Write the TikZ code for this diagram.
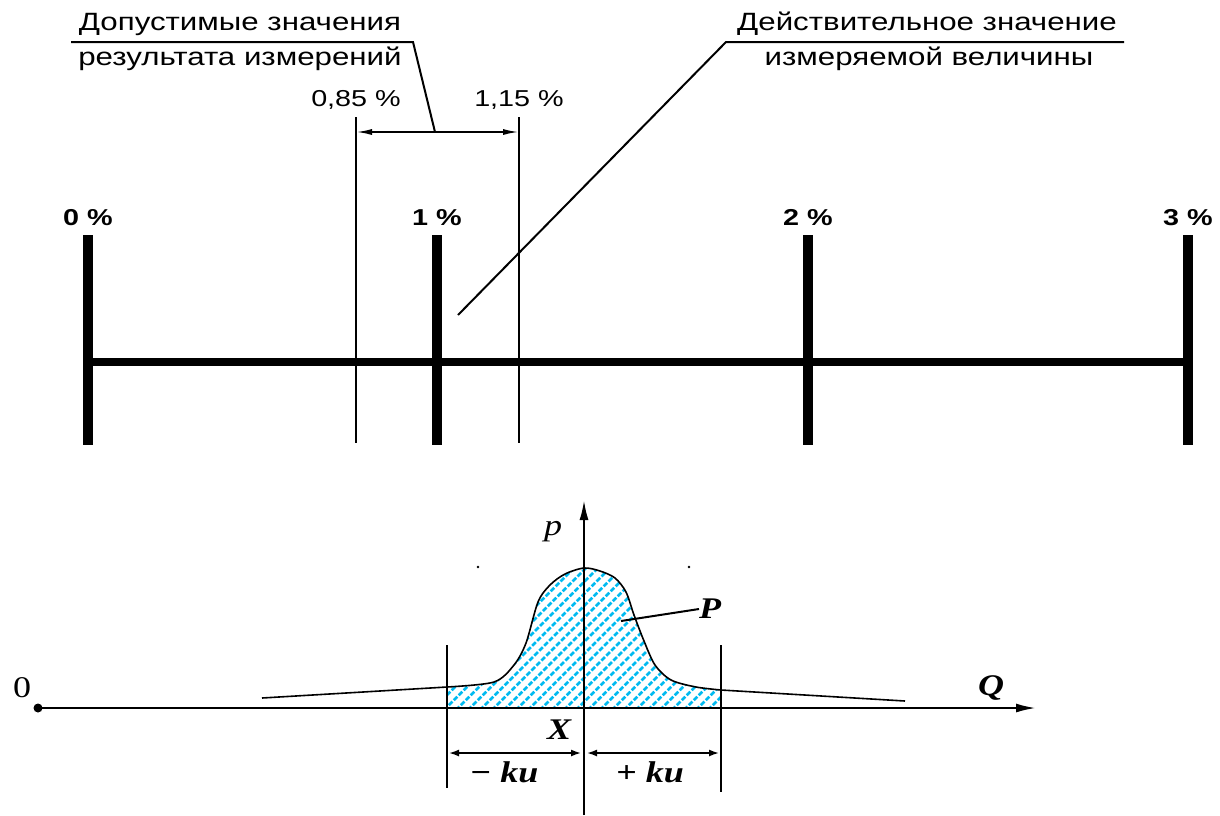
\documentclass[tikz,border=0pt]{standalone}
\usepackage{fontspec}
\setmainfont{Liberation Serif}[FakeStretch=1.2]
\setsansfont{Liberation Sans}[FakeStretch=1.25]
\usetikzlibrary{arrows.meta,positioning,calc}
\definecolor{hatchCyan}{RGB}{0,186,240}
\tikzset{
  caption/.style={font=\sffamily\fontsize{25}{30}\selectfont, inner sep=0pt},
  pctlabel/.style={font=\sffamily\fontsize{23}{27}\selectfont, inner sep=0pt},
  scalelabel/.style={font=\sffamily\bfseries\fontsize{23}{27}\selectfont, inner sep=0pt},
  varlabel/.style={font=\bfseries\itshape\fontsize{30}{34}\selectfont, inner sep=0pt},
  axislabel/.style={font=\fontsize{30}{34}\selectfont, inner sep=0pt},
  bar/.style={line width=10pt},
  scaleline/.style={line width=8pt},
  thinline/.style={line width=1.8pt},
  leader/.style={line width=2pt},
  dimline/.style={thinline, {Latex[length=16pt,width=6pt]}-{Latex[length=16pt,width=6pt]}},
  smalldim/.style={line width=1.6pt, {Latex[length=10pt,width=7pt]}-{Latex[length=10pt,width=7pt]}},
  axisarrow/.style={line width=2.2pt, -{Latex[length=20pt,width=9pt]}},
  curve/.style={line width=1.6pt, line join=round},
  hatch/.style={draw=hatchCyan, line width=2.6pt, dash pattern=on 5pt off 2pt}
}

\begin{document}
\begin{tikzpicture}[x=1pt, y=-1pt]
\useasboundingbox (0,0) rectangle (1220,815);

% measuring scale
\foreach \pos/\name/\txt in {88/s0/0, 437/s1/1, 808/s2/2, 1188/s3/3}{
  \coordinate (\name top) at (\pos,235);
  \coordinate (\name bot) at (\pos,445);
  \node[scalelabel] (\name lbl) at (\pos,218) {\txt~\%};
  \draw[bar] (\name top) -- (\name bot);
}
\coordinate (s0 mid) at (88,362);
\coordinate (s3 mid) at (1188,362);
\draw[scaleline] (s0 mid) -- (s3 mid);

% tolerance band
\coordinate (lo top) at (356,117);
\coordinate (lo bot) at (356,443);
\coordinate (hi top) at (519,117);
\coordinate (hi bot) at (519,443);
\coordinate (lo dim) at (356,132);
\coordinate (hi dim) at (519,132);
\coordinate (tol mid) at (435,132);
\node[pctlabel] (lo lbl) at (356,100) {0,85~\%};
\node[pctlabel] (hi lbl) at (519,100) {1,15~\%};
\draw[thinline] (lo top) -- (lo bot);
\draw[thinline] (hi top) -- (hi bot);
\draw[dimline] (lo dim) -- (hi dim);

% captions
\node[caption] (tol1) at (240,24) {Допустимые значения};
\node[caption] (tol2) at (240,59) {результата измерений};
\coordinate (tolL) at (71,42);
\coordinate (tolR) at (413,42);
\draw[leader] (tolL) -- (tolR) -- (tol mid);

\node[caption] (true1) at (927,24) {Действительное значение};
\node[caption] (true2) at (929,59) {измеряемой величины};
\coordinate (trueR) at (1124,42);
\coordinate (trueL) at (726,42);
\coordinate (true pt) at (458,315);
\draw[leader] (trueR) -- (trueL) -- (true pt);

% distribution
\coordinate (O) at (38,708);
\coordinate (Qend) at (1036,708);
\coordinate (pbase) at (584,815);
\coordinate (ptop) at (584,500);
\coordinate (kl base) at (447,708);
\coordinate (kr base) at (721,708);
\coordinate (tailL) at (262,698);
\coordinate (tailR) at (905,701);

\path[path picture={
  \foreach \k in {0,...,37} \draw[hatch] (290+\k*12,720) -- ++(170,-170);
}] (kl base) -- plot[smooth] coordinates {(447,687) (494,682) (514,665) (526,643)
  (538,602) (550,585) (565,574) (584,568) (600,571) (615,578) (626,592) (634,615)
  (644,641) (655,665) (671,680) (696,687) (721,690)} -- (kr base) -- cycle;

\draw[curve] (tailL) -- plot[smooth] coordinates {(447,687) (494,682) (514,665) (526,643)
  (538,602) (550,585) (565,574) (584,568) (600,571) (615,578) (626,592) (634,615)
  (644,641) (655,665) (671,680) (696,687) (721,690)} -- (tailR);

\draw[axisarrow] (O) -- (Qend);
\draw[axisarrow] (pbase) -- (ptop);
\fill (O) circle[radius=4.5pt];
\fill (478,567) circle[radius=1.3pt];
\fill (689,567) circle[radius=1.3pt];

\node[axislabel] (zero) at (22,688) {0};
\node[axislabel, font=\itshape\fontsize{30}{34}\selectfont] (plbl) at (553,532) {p};
\node[varlabel] (Qlbl) at (991,688) {Q};
\node[varlabel] (Xlbl) at (559,730) {X};

% coverage interval
\coordinate (kl top) at (447,645);
\coordinate (kl bot) at (447,788);
\coordinate (kr top) at (721,645);
\coordinate (kr bot) at (721,792);
\draw[thinline] (kl top) -- (kl bot);
\draw[thinline] (kr top) -- (kr bot);
\coordinate (kl dim) at (449,753);
\coordinate (X dimL) at (581,753);
\coordinate (X dimR) at (587,753);
\coordinate (kr dim) at (719,753);
\draw[smalldim] (kl dim) -- (X dimL);
\draw[smalldim] (X dimR) -- (kr dim);
\node[varlabel] (minus ku) at (504,772) {− ku};
\node[varlabel] (plus ku) at (650,772) {+ ku};

\coordinate (Pfoot) at (621,621);
\node[varlabel, anchor=west] (Plbl) at (699,609) {P};
\draw[leader] (Pfoot) -- (Plbl.west);
\end{tikzpicture}
\end{document}
